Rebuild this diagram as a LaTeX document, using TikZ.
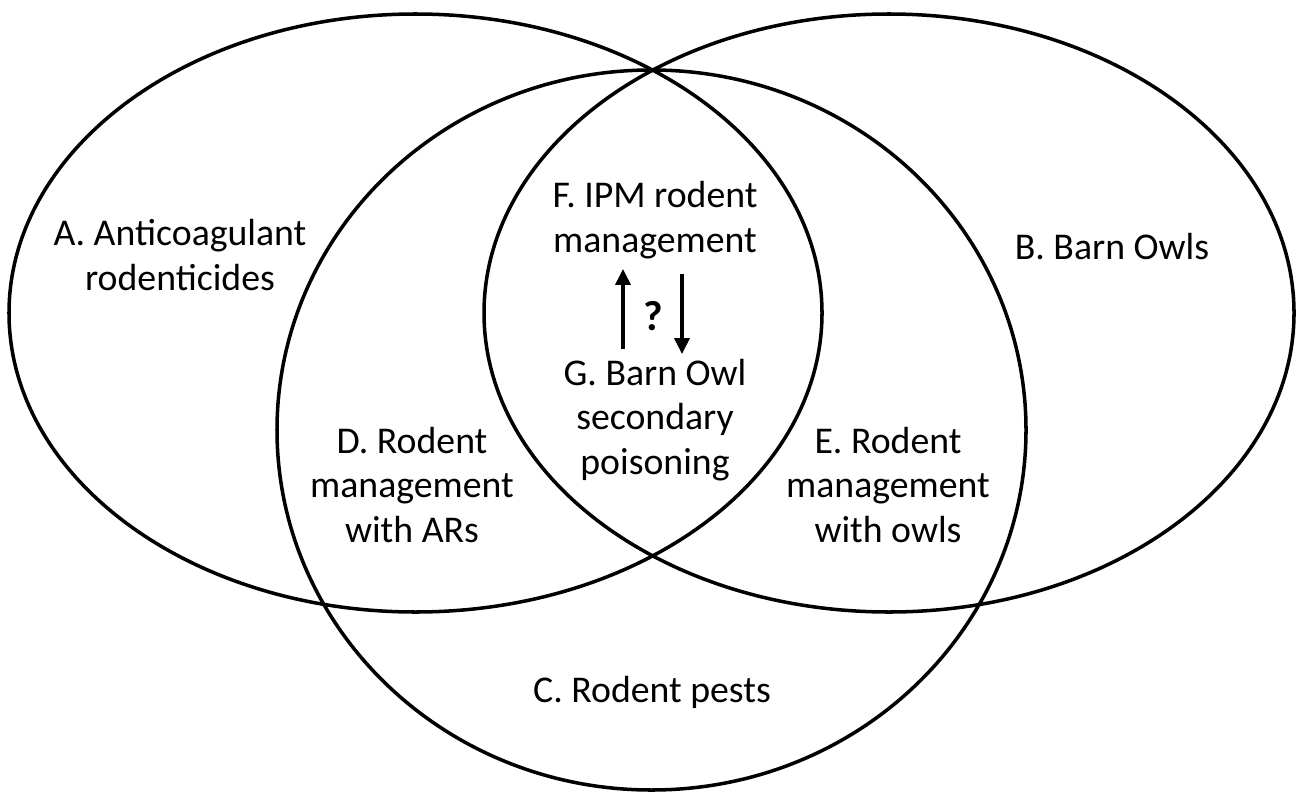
\documentclass[tikz,border=0pt]{standalone}
\usepackage{fontspec}
\setmainfont{Carlito}
\usetikzlibrary{arrows.meta}

\begin{document}
\begin{tikzpicture}[x=0.02cm, y=-0.02cm,
    setline/.style={line width=2pt},
    lbl/.style={align=center, inner sep=0pt, font=\fontsize{21.5}{25.5}\selectfont},
    flow/.style={line width=1.9pt, -{Triangle[width=8.5pt, length=9pt]}}]
    \useasboundingbox (0,0) rectangle (1300,794);

    % Conjuntos (la lente A-B es la zona F / G)
    \draw[setline] (415.5,313) ellipse [x radius=406.5, y radius=299];  % A
    \draw[setline] (889,313)   ellipse [x radius=405,   y radius=299];  % B
    \draw[setline] (651.5,430) ellipse [x radius=374.5, y radius=360];  % C

    % Etiquetas
    \node[lbl] (A) at (180,255)  {A. Anticoagulant\\rodenticides};
    \node[lbl] (B) at (1112,247) {B. Barn Owls};
    \node[lbl] (C) at (652,692)  {C. Rodent pests};
    \node[lbl] (D) at (412,485)  {D. Rodent\\management\\with ARs};
    \node[lbl] (E) at (888,485)  {E. Rodent\\management\\with owls};
    \node[lbl] (F) at (655,220)  {F. IPM rodent\\management};
    \node[lbl] (G) at (655,420)  {G. Barn Owl\\secondary\\poisoning};
    \node[lbl, font=\fontsize{24}{28}\selectfont\bfseries] (Q) at (653,316) {?};

    % Flechas entre F y G
    \coordinate (upS) at (623,349);
    \coordinate (upE) at (623,269);
    \coordinate (dnS) at (682,274);
    \coordinate (dnE) at (682,354);
    \draw[flow] (upS) -- (upE);
    \draw[flow] (dnS) -- (dnE);
\end{tikzpicture}
\end{document}
